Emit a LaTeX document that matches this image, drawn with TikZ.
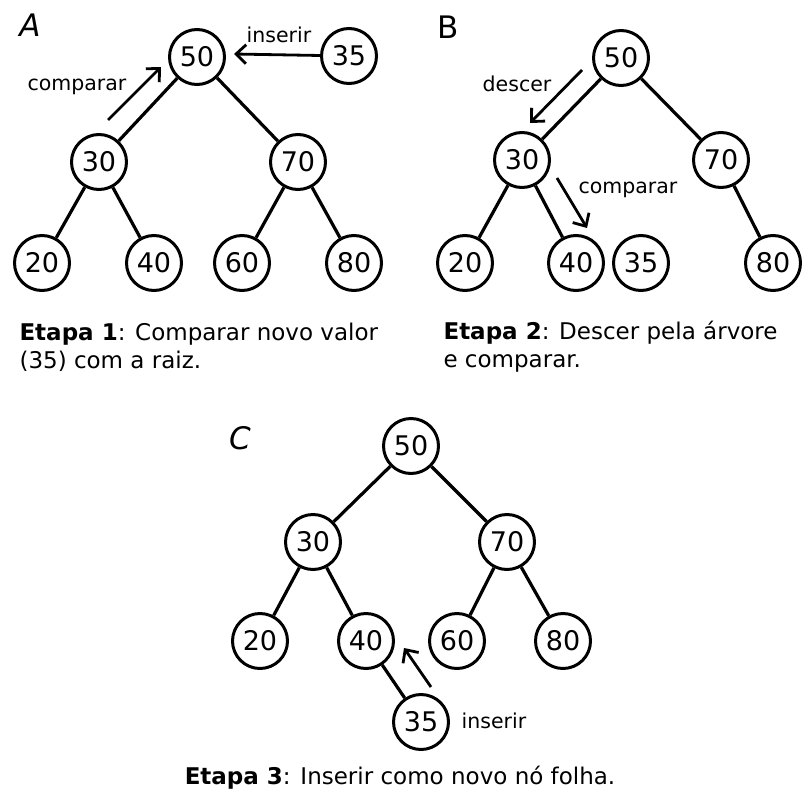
\documentclass[tikz,border=0pt]{standalone}
\usepackage{fontspec}
\setmainfont{DejaVu Sans}
\usetikzlibrary{arrows.meta}
\begin{document}
\begin{tikzpicture}[x=1pt,y=-1pt,
  key/.style={circle,draw,line width=3pt,minimum size=55pt,inner sep=0pt,font=\fontsize{27}{27}\selectfont},
  edge/.style={line width=3.2pt},
  hint/.style={line width=2.8pt,-{Straight Barb[length=10pt,width=19pt,line width=2.8pt]}},
  lbl/.style={font=\fontsize{20.5}{20.5}\selectfont},
  panel/.style={font=\fontsize{31}{31}\selectfont\itshape},
  stepnote/.style={font=\fontsize{23}{28}\selectfont,align=left,anchor=west}]
\useasboundingbox (0,0) rectangle (802,800);

% ---------- Panel A ----------
\node[panel] (tA) at (30,25) {A};
\node[key] (a50) at (197,57) {50};
\node[key] (a35) at (349,56) {35};
\node[key] (a30) at (99,162) {30};
\node[key] (a70) at (298,162) {70};
\node[key] (a20) at (42,263) {20};
\node[key] (a40) at (154,263) {40};
\node[key] (a60) at (242,263) {60};
\node[key] (a80) at (354,263) {80};
\draw[edge] (a50) -- (a30);
\draw[edge] (a50) -- (a70);
\draw[edge] (a30) -- (a20);
\draw[edge] (a30) -- (a40);
\draw[edge] (a70) -- (a60);
\draw[edge] (a70) -- (a80);
\coordinate (acT) at (108,120);
\coordinate (acH) at (161,67);
\draw[hint] (acT) -- (acH);
\node[lbl] (acL) at (77,87) {comparar};
\coordinate (aiH) at (234,54);
\draw[hint] (a35) -- (aiH);
\node[lbl] (aiL) at (279,35) {inserir};
\node[stepnote] (capA) at (16,347) {\textbf{Etapa 1}: Comparar novo valor\\(35) com a raiz.};

% ---------- Panel B ----------
\node[panel,font=\fontsize{31}{31}\selectfont] (tB) at (448,27) {B};
\node[key] (b50) at (621,58) {50};
\node[key] (b30) at (522,160) {30};
\node[key] (b70) at (721,160) {70};
\node[key] (b20) at (465,263) {20};
\node[key] (b40) at (576,263) {40};
\node[key] (b35) at (641,263) {35};
\node[key] (b80) at (773,263) {80};
\draw[edge] (b50) -- (b30);
\draw[edge] (b50) -- (b70);
\draw[edge] (b30) -- (b20);
\draw[edge] (b30) -- (b40);
\draw[edge] (b70) -- (b80);
\coordinate (bdT) at (582,70);
\coordinate (bdH) at (530,123);
\draw[hint] (bdT) -- (bdH);
\node[lbl] (bdL) at (517,84) {descer};
\coordinate (bcT) at (557,178);
\coordinate (bcH) at (587,228);
\draw[hint] (bcT) -- (bcH);
\node[lbl] (bcL) at (628,190) {comparar};
\node[stepnote] (capB) at (440,347) {\textbf{Etapa 2}: Descer pela árvore\\e comparar.};

% ---------- Panel C ----------
\node[panel] (tC) at (240,438) {C};
\node[key] (c50) at (411,446) {50};
\node[key] (c30) at (313,542) {30};
\node[key] (c70) at (507,542) {70};
\node[key] (c20) at (260,641) {20};
\node[key] (c40) at (366,641) {40};
\node[key] (c60) at (457,641) {60};
\node[key] (c80) at (563,641) {80};
\node[key] (c35) at (421,722) {35};
\draw[edge] (c50) -- (c30);
\draw[edge] (c50) -- (c70);
\draw[edge] (c30) -- (c20);
\draw[edge] (c30) -- (c40);
\draw[edge] (c70) -- (c60);
\draw[edge] (c70) -- (c80);
\draw[edge] (c40) -- (c35);
\coordinate (ciT) at (431,687);
\coordinate (ciH) at (404,648);
\draw[hint] (ciT) -- (ciH);
\node[lbl] (ciL) at (494,721) {inserir};
\node[font=\fontsize{23}{28}\selectfont] (capC) at (400,778) {\textbf{Etapa 3}: Inserir como novo nó folha.};
\end{tikzpicture}
\end{document}
